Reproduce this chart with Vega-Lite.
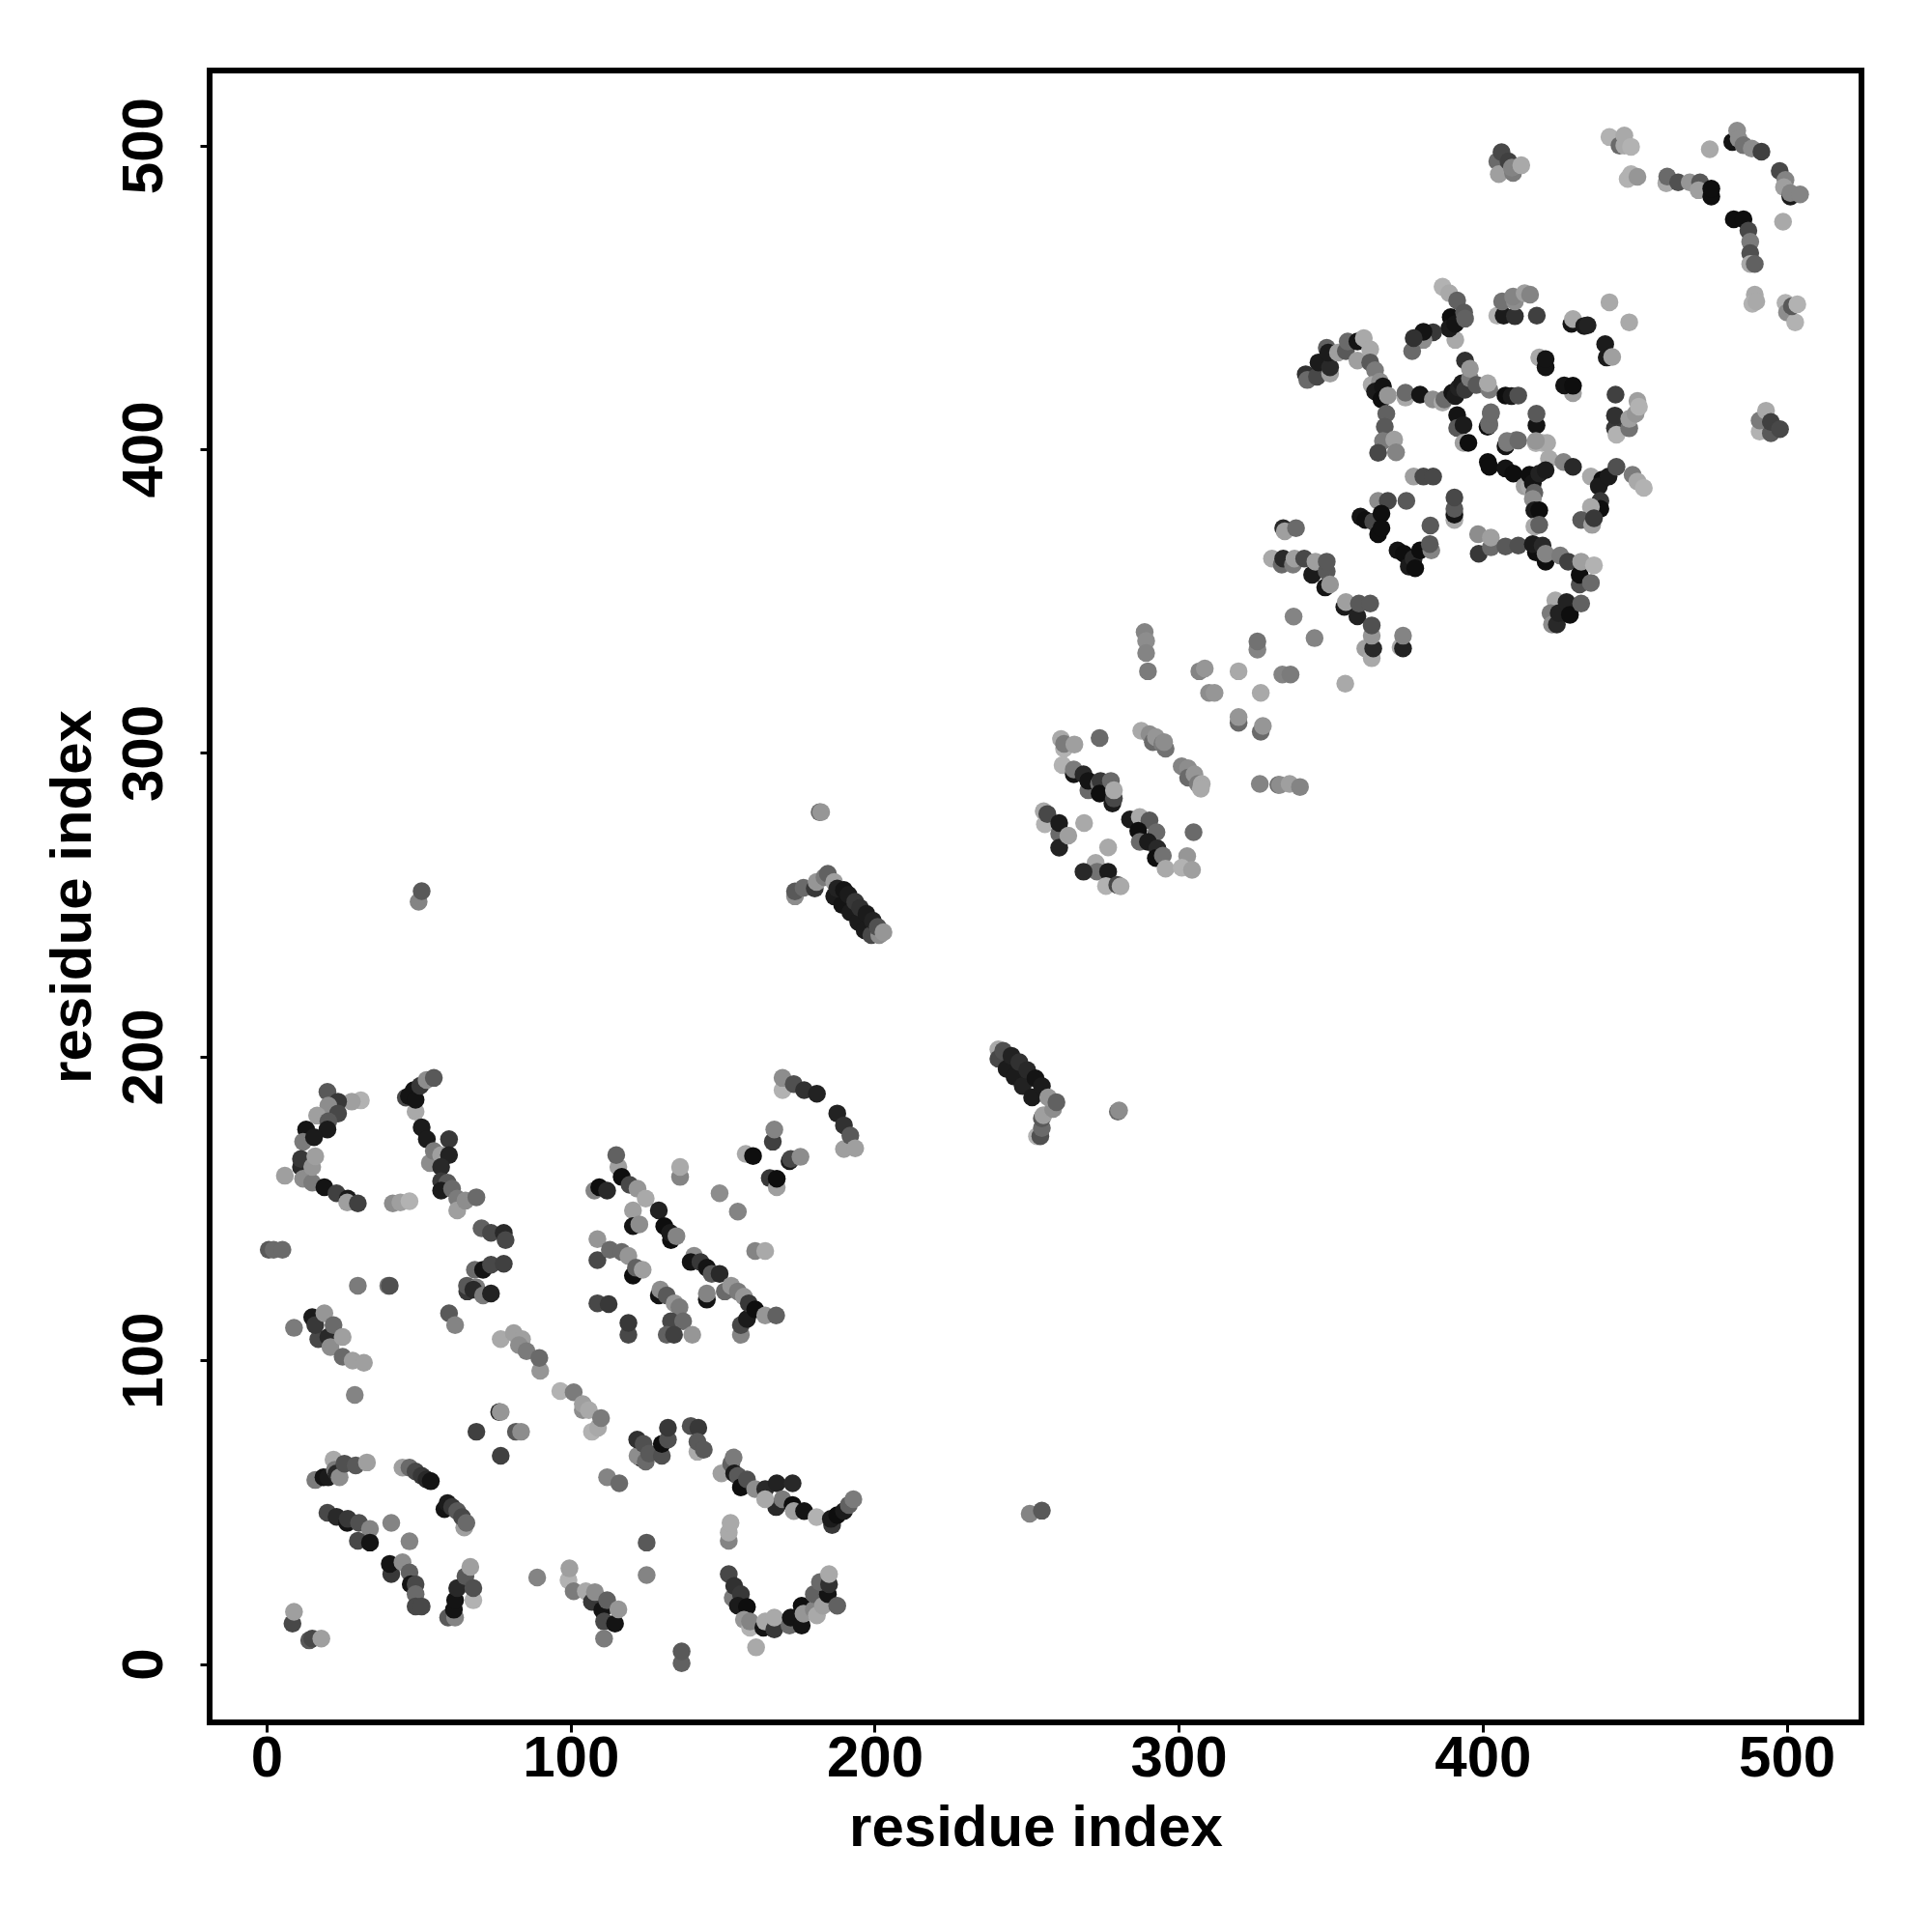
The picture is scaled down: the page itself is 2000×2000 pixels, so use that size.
{"$schema":"https://vega.github.io/schema/vega-lite/v6.json","width":1710,"height":1710,"autosize":{"type":"none"},"padding":{"left":217,"top":73,"right":73,"bottom":217},"background":"white",
"config":{"view":{"stroke":"#000","strokeWidth":6},"font":"Liberation Sans"},
"data":{"values":[
{"i":20,"j":188.4,"s":0.5},{"i":31,"j":185.6,"s":1},{"i":28,"j":185.2,"s":0.9},{"i":23.5,"j":185.2,"s":0.3},{"i":20.3,"j":183.9,"s":0.8},{"i":23.5,"j":181.3,"s":0.4},{"i":16.6,"j":180.6,"s":0.9},{"i":20.3,"j":178.7,"s":0.5},{"i":13,"j":176,"s":0.05},{"i":20,"j":176,"s":0.1},{"i":12,"j":172,"s":0.7},{"i":15.6,"j":173.5,"s":0.1},{"i":11.3,"j":163.7,"s":0.2},{"i":11.3,"j":166.3,"s":0.3},{"i":12,"j":159.8,"s":0.8},{"i":15,"j":158.5,"s":0.7},{"i":15,"j":163.7,"s":0.85},{"i":16,"j":167.2,"s":0.9},{"i":19,"j":157,"s":0.05},{"i":6,"j":160.8,"s":0.9},{"i":23,"j":155,"s":0.35},{"i":26.7,"j":153.3,"s":0.1},{"i":26.5,"j":152,"s":0.9},{"i":30,"j":151.7,"s":0.35},
{"i":41.5,"j":151.7,"s":0.8},{"i":44,"j":152,"s":0.9},{"i":47,"j":152.4,"s":1},
{"i":45.8,"j":186.5,"s":0.4},{"i":49,"j":181.9,"s":0.95},{"i":48.4,"j":189,"s":0.05},{"i":46.8,"j":187,"s":0.05},{"i":49,"j":185.8,"s":0.05},{"i":50.5,"j":190.4,"s":0.3},{"i":52.6,"j":192.3,"s":0.8},{"i":55,"j":193,"s":0.5},
{"i":51,"j":176.7,"s":0.1},{"i":52.7,"j":172.8,"s":0.1},{"i":60,"j":172.8,"s":0.3},{"i":53.7,"j":165,"s":0.8},{"i":55,"j":168.9,"s":0.7},{"i":57.4,"j":167.6,"s":0.9},{"i":60,"j":167.6,"s":0.15},{"i":57.4,"j":163.7,"s":0.2},{"i":57.4,"j":159,"s":0.3},{"i":59.5,"j":158.5,"s":0.5},{"i":57.4,"j":155.9,"s":0.1},{"i":61,"j":156.5,"s":0.6},{"i":62.7,"j":153.3,"s":0.7},{"i":62.7,"j":149.4,"s":0.9},{"i":65.4,"j":152.6,"s":0.8},{"i":69,"j":153.7,"s":0.6},
{"i":0.7,"j":136.4,"s":0.5},{"i":2.3,"j":136.4,"s":0.6},{"i":5.2,"j":136.4,"s":0.6},{"i":30,"j":124.6,"s":0.7},{"i":40,"j":124.6,"s":0.7},{"i":40.5,"j":124.6,"s":0.45},
{"i":70.7,"j":143.5,"s":0.55},{"i":73.8,"j":142,"s":0.4},{"i":78,"j":142,"s":0.2},{"i":78.6,"j":139.6,"s":0.4},{"i":68.5,"j":129.8,"s":0.6},{"i":71.2,"j":129.8,"s":0.05},{"i":73.8,"j":131.5,"s":0.4},{"i":78,"j":131.8,"s":0.35},{"i":66,"j":122.7,"s":0.3},{"i":65.9,"j":124.6,"s":0.5},{"i":69,"j":124,"s":0.7},{"i":68,"j":123.3,"s":0.2},{"i":71.2,"j":121.4,"s":0.7},{"i":73.8,"j":122,"s":0.15},{"i":60,"j":115.5,"s":0.5},{"i":62,"j":111.6,"s":0.75},
{"i":9,"j":110.7,"s":0.7},{"i":15,"j":114.2,"s":0.1},{"i":17,"j":107,"s":0.4},{"i":16,"j":111.6,"s":0.3},{"i":19,"j":115.5,"s":0.85},{"i":20.3,"j":107.7,"s":0.2},{"i":22,"j":111.6,"s":0.6},{"i":21,"j":104.4,"s":0.8},{"i":25,"j":107.7,"s":0.9},{"i":25,"j":101.2,"s":0.6},{"i":28.3,"j":99.9,"s":0.9},{"i":32,"j":99.2,"s":0.9},{"i":29,"j":88.6,"s":0.75},
{"i":77,"j":107,"s":0.95},{"i":81.3,"j":109,"s":0.9},{"i":84,"j":107,"s":0.9},{"i":83,"j":105,"s":0.8},{"i":85.5,"j":103,"s":0.7},{"i":90,"j":96.6,"s":0.85},{"i":89.7,"j":100.8,"s":0.6},
{"i":96.6,"j":89.9,"s":1},{"i":101,"j":89.5,"s":0.7},{"i":104,"j":83.6,"s":0.8},{"i":104,"j":85.6,"s":0.9},{"i":106,"j":83.6,"s":0.95},{"i":107,"j":76.5,"s":1},{"i":109,"j":77.8,"s":0.95},{"i":110,"j":81,"s":0.7},
{"i":76.5,"j":83,"s":0.2},{"i":77,"j":83,"s":0.85},{"i":69,"j":76.5,"s":0.35},{"i":82,"j":76.5,"s":0.5},{"i":83.7,"j":76.5,"s":0.8},{"i":77,"j":68.6,"s":0.35},
{"i":16,"j":60.6,"s":0.7},{"i":18.7,"j":61.5,"s":0.05},{"i":20.3,"j":61.5,"s":0.1},{"i":22,"j":67.3,"s":0.95},{"i":22.5,"j":64,"s":0.7},{"i":23,"j":62.8,"s":0.2},{"i":24,"j":61.5,"s":0.8},{"i":25.6,"j":66,"s":0.45},{"i":29.3,"j":65.4,"s":0.5},{"i":33,"j":66.4,"s":0.9},
{"i":44.7,"j":64.7,"s":0.9},{"i":47,"j":64.7,"s":0.6},{"i":49,"j":63.4,"s":0.4},{"i":51,"j":62,"s":0.3},{"i":52.6,"j":60.8,"s":0.2},{"i":54,"j":60.2,"s":0.05},
{"i":58.5,"j":51,"s":0.05},{"i":59.5,"j":53,"s":0.1},{"i":61,"j":51.7,"s":0.3},{"i":62.7,"j":50.4,"s":0.5},{"i":65,"j":45,"s":0.9},{"i":64.3,"j":48.4,"s":0.4},{"i":65.7,"j":46.5,"s":0.6},
{"i":20,"j":49.8,"s":0.4},{"i":23,"j":48.5,"s":0.2},{"i":26.5,"j":46.5,"s":0.05},{"i":26.7,"j":47.8,"s":0.3},{"i":30.4,"j":46.5,"s":0.45},{"i":34,"j":44.5,"s":0.75},{"i":30,"j":40.6,"s":0.4},{"i":34,"j":40,"s":0.05},{"i":41,"j":46.5,"s":0.75},{"i":47,"j":40.4,"s":0.75},
{"i":41,"j":29.6,"s":0.3},{"i":40.5,"j":33,"s":0.05},{"i":44.7,"j":33.5,"s":0.8},{"i":47,"j":30.2,"s":0.55},{"i":47.4,"j":26.3,"s":0.05},{"i":49,"j":26.3,"s":0.4},{"i":49,"j":23,"s":0.6},{"i":49,"j":19,"s":0.4},{"i":51,"j":19,"s":0.4},
{"i":59.7,"j":15.3,"s":0.5},{"i":62,"j":15.3,"s":0.75},{"i":61.6,"j":17.9,"s":0.05},{"i":62,"j":21,"s":0.05},{"i":62.7,"j":25,"s":0.2},{"i":65.4,"j":28.9,"s":0.5},{"i":68,"j":21,"s":1},{"i":68,"j":25,"s":0.45},{"i":67,"j":32,"s":0.9},
{"i":8.5,"j":13.3,"s":0.4},{"i":9,"j":17.2,"s":0.9},{"i":14,"j":7.8,"s":0.5},{"i":15,"j":8.4,"s":0.4},{"i":18,"j":8.4,"s":0.9},
{"i":89,"j":28.5,"s":0.75},{"i":99.3,"j":27.6,"s":1},{"i":99.6,"j":31.5,"s":0.9},{"i":101,"j":24,"s":0.7},{"i":105,"j":24,"s":0.95},{"i":107,"j":20.5,"s":0.3},{"i":108,"j":23.7,"s":0.8},{"i":110.4,"j":17.8,"s":0.05},{"i":111,"j":14,"s":0.4},{"i":112,"j":21,"s":0.55},{"i":114.6,"j":13.3,"s":0.05},{"i":115.7,"j":18,"s":0.85},{"i":111,"j":8.4,"s":0.7},
{"i":125,"j":40,"s":0.5},{"i":125,"j":29.3,"s":0.75},{"i":136.5,"j":0.3,"s":0.55},{"i":136.5,"j":4.2,"s":0.5},
{"i":169.7,"j":189,"s":1},{"i":169.7,"j":193,"s":0.8},{"i":173.4,"j":191,"s":0.45},{"i":176.8,"j":189,"s":0.25},{"i":181,"j":187.8,"s":0.15},{"i":187.7,"j":181.3,"s":0.15},{"i":189.9,"j":177.4,"s":0.25},{"i":189.9,"j":169.6,"s":0.9},{"i":192,"j":174,"s":0.5},{"i":193.6,"j":169.8,"s":0.9},
{"i":166.5,"j":172,"s":0.35},{"i":167,"j":176,"s":0.75},{"i":157.6,"j":168,"s":0.95},{"i":160,"j":167.3,"s":0.02},{"i":172,"j":165.6,"s":0.1},{"i":172.4,"j":166.3,"s":0.4},{"i":175.6,"j":167,"s":0.8},{"i":165.5,"j":160,"s":0.3},{"i":167.8,"j":157,"s":0.9},{"i":167.8,"j":159.8,"s":0.02},
{"i":136,"j":160.4,"s":0.75},{"i":136,"j":163.7,"s":0.95},{"i":149,"j":155,"s":0.8},{"i":155,"j":149,"s":0.75},{"i":160.7,"j":136,"s":0.75},{"i":164,"j":136,"s":0.95},
{"i":115.7,"j":163.7,"s":0.9},{"i":115,"j":167.6,"s":0.55},{"i":107.8,"j":155.9,"s":0.75},{"i":109.4,"j":157,"s":0.02},{"i":112,"j":155.9,"s":0.2},{"i":116.8,"j":160.4,"s":0.02},{"i":119.4,"j":157.8,"s":0.4},{"i":120.5,"j":149.4,"s":0.9},{"i":122,"j":156.5,"s":0.85},{"i":124.7,"j":153.3,"s":0.95},{"i":120.5,"j":144.2,"s":0.05},{"i":122.6,"j":144.8,"s":0.8},{"i":129,"j":149.4,"s":0.15},{"i":130.8,"j":144.2,"s":0.02},{"i":133,"j":139.6,"s":0.02},{"i":132.7,"j":142,"s":0.1},{"i":134.8,"j":140.9,"s":0.75},
{"i":108.8,"j":139.9,"s":0.85},{"i":108.8,"j":133,"s":0.4},{"i":112.9,"j":136.4,"s":0.6},{"i":116.8,"j":135.7,"s":0.6},{"i":119,"j":134.4,"s":0.85},{"i":120.5,"j":127.9,"s":0.02},{"i":121.5,"j":130.5,"s":0.55},{"i":123.7,"j":129.8,"s":0.9},
{"i":108.8,"j":118.8,"s":0.4},{"i":112.5,"j":118.5,"s":0.3},{"i":119,"j":108.4,"s":0.4},{"i":119,"j":112.3,"s":0.3},
{"i":129,"j":121.4,"s":0.05},{"i":129.5,"j":123.3,"s":0.8},{"i":131.6,"j":121.4,"s":0.5},{"i":134.2,"j":118.8,"s":0.85},{"i":135.8,"j":117.5,"s":0.7},{"i":133,"j":112.9,"s":0.4},{"i":137,"j":112.9,"s":0.6},{"i":131.6,"j":108.4,"s":0.55},{"i":134,"j":108.4,"s":0.35},{"i":140,"j":108.4,"s":0.85},
{"i":140.6,"j":134.4,"s":0.8},{"i":139.5,"j":132.4,"s":0.05},{"i":142.7,"j":132.4,"s":0.3},{"i":144.8,"j":130.5,"s":0.05},{"i":146.4,"j":128.5,"s":0.5},{"i":149,"j":128.5,"s":0.2},{"i":144.8,"j":120,"s":0.05},{"i":144.8,"j":122,"s":0.75},{"i":150.7,"j":122.7,"s":0.6},{"i":152.8,"j":124.6,"s":0.85},{"i":155,"j":122.7,"s":0.7},{"i":157,"j":121,"s":0.85},{"i":156,"j":108.4,"s":0.75},{"i":156,"j":111.6,"s":0.4},{"i":158,"j":113.6,"s":0.1},{"i":158.6,"j":118.8,"s":0.3},{"i":160.7,"j":116.8,"s":0.02},{"i":164,"j":114.8,"s":0.85},{"i":167.6,"j":114.8,"s":0.55},
{"i":123,"j":68,"s":0.05},{"i":122,"j":68.6,"s":0.8},{"i":121.9,"j":73.9,"s":0.25},{"i":124,"j":72.5,"s":0.45},{"i":124.7,"j":66.7,"s":0.6},{"i":125.8,"j":69.3,"s":0.5},{"i":130,"j":68.6,"s":0.45},{"i":130,"j":72.5,"s":0.02},{"i":132,"j":73.9,"s":0.45},{"i":132,"j":77.8,"s":0.3},
{"i":139.5,"j":78.4,"s":0.45},{"i":142,"j":77.8,"s":0.3},{"i":141.7,"j":69.9,"s":0.95},{"i":141.7,"j":73.2,"s":0.5},{"i":143.8,"j":70.6,"s":0.5},{"i":112,"j":61.5,"s":0.75},{"i":116,"j":59.5,"s":0.6},
{"i":149.6,"j":62.8,"s":0.9},{"i":152.8,"j":66,"s":0.55},{"i":153.6,"j":68,"s":0.7},{"i":153.8,"j":62.8,"s":0.1},{"i":155,"j":62,"s":0.5},{"i":156,"j":58.2,"s":0.02},{"i":158,"j":60.8,"s":0.45},{"i":160.7,"j":57.6,"s":0.8},{"i":164,"j":57.6,"s":0.2},{"i":167.8,"j":59.5,"s":0.15},{"i":173,"j":59.5,"s":0.2},{"i":167.6,"j":51.7,"s":0.2},{"i":164,"j":54.3,"s":0.95},{"i":169.7,"j":54.3,"s":0.7},{"i":173,"j":52.4,"s":0.02},{"i":173.4,"j":50.4,"s":0.9},{"i":176.8,"j":50.4,"s":0.05},{"i":180.9,"j":48.4,"s":1},
{"i":186,"j":45.8,"s":0.3},{"i":185.6,"j":47.8,"s":0.1},{"i":187.7,"j":49,"s":0.02},{"i":189.9,"j":50.4,"s":0.1},{"i":191.5,"j":52.4,"s":0.55},{"i":193,"j":54.3,"s":0.7},
{"i":152,"j":40.6,"s":0.75},{"i":152,"j":43.3,"s":0.95},{"i":152.6,"j":46.5,"s":0.95},
{"i":152,"j":29.6,"s":0.4},{"i":153.3,"j":21.8,"s":0.7},{"i":153.8,"j":25.7,"s":0.25},{"i":156,"j":23,"s":0.3},{"i":155,"j":19.2,"s":0.1},{"i":158,"j":18.8,"s":0.02},{"i":157,"j":14.6,"s":0.85},{"i":159,"j":12,"s":1},{"i":159,"j":14,"s":0.75},{"i":163.4,"j":12,"s":0.05},{"i":164,"j":14,"s":0.95},{"i":167,"j":11.4,"s":0.3},{"i":167,"j":15.3,"s":0.95},{"i":172,"j":12.7,"s":0.6},{"i":172.4,"j":15.3,"s":0.05},{"i":176,"j":12.7,"s":0.05},{"i":176,"j":19.2,"s":0.02},{"i":176.6,"j":16.6,"s":0.85},{"i":180,"j":17.9,"s":0.75},{"i":181,"j":16,"s":0.95},{"i":180,"j":23,"s":0.55},{"i":183,"j":19.2,"s":0.9},{"i":184.6,"j":23,"s":0.05},{"i":182,"j":27,"s":0.6},{"i":185,"j":26.3,"s":0.25},{"i":185,"j":29.6,"s":0.95},{"i":187.7,"j":19.2,"s":0.55},{"i":161,"j":5.5,"s":0.95},
{"i":50,"j":251,"s":0.75},{"i":51,"j":254.5,"s":0.5},{"i":251,"j":49.5,"s":0.75},{"i":255,"j":50.5,"s":0.5},
{"i":181.9,"j":280.5,"s":0.6},{"i":182.4,"j":280.5,"s":0.85},{"i":173.8,"j":252.8,"s":0.8},{"i":173.8,"j":254.4,"s":0.5},{"i":176.6,"j":255.6,"s":0.6},{"i":180.3,"j":255.4,"s":0.3},{"i":180.9,"j":257.5,"s":0.85},{"i":183.5,"j":259.1,"s":0.7},{"i":184.6,"j":260.2,"s":0.55},{"i":186.7,"j":257.5,"s":0.9},
{"i":186.7,"j":252.8,"s":0.1},{"i":189.3,"j":250,"s":0.05},{"i":192,"j":247.5,"s":0.1},{"i":194.6,"j":244.3,"s":0.1},{"i":196.7,"j":241.6,"s":0.1},{"i":198.9,"j":240,"s":0.4},{"i":187.7,"j":255.4,"s":0.15},{"i":189.9,"j":254.9,"s":0.05},{"i":191.4,"j":253.3,"s":0.1},{"i":193.6,"j":251,"s":0.3},{"i":195.2,"j":249,"s":0.25},{"i":197.3,"j":247,"s":0.1},{"i":199.4,"j":244.8,"s":0.15},{"i":201.5,"j":240,"s":0.8},{"i":201,"j":242.7,"s":0.45},{"i":202.9,"j":241,"s":0.85},
{"i":240.7,"j":202.4,"s":0.95},{"i":240.7,"j":199.3,"s":0.4},{"i":243.4,"j":196,"s":0.1},{"i":246,"j":193.4,"s":0.1},{"i":248.7,"j":190.3,"s":0.15},{"i":251.8,"j":186.6,"s":0.1},{"i":242.3,"j":201.9,"s":0.45},{"i":245,"j":200.3,"s":0.15},{"i":247.6,"j":198.2,"s":0.25},{"i":250.2,"j":195.6,"s":0.2},{"i":252.9,"j":192.9,"s":0.05},{"i":255,"j":190.3,"s":0.1},{"i":253.4,"j":173.8,"s":1},{"i":254.5,"j":173.8,"s":0.45},{"i":255,"j":176.5,"s":0.6},{"i":255,"j":179.7,"s":0.5},{"i":255.5,"j":180.7,"s":0.9},{"i":258.7,"j":182.8,"s":0.8},{"i":257.1,"j":186.6,"s":0.85},{"i":259.8,"j":185,"s":0.55},{"i":280,"j":181.9,"s":0.6},{"i":280.4,"j":182.3,"s":0.8},
{"i":288.8,"j":339.8,"s":0.75},{"i":289.3,"j":336.9,"s":0.8},{"i":289.3,"j":332.9,"s":0.75},{"i":289.9,"j":326.9,"s":0.7},{"i":306.8,"j":326.9,"s":0.75},{"i":308.6,"j":327.8,"s":0.85},{"i":319.7,"j":326.9,"s":0.95},{"i":325.9,"j":334,"s":0.75},{"i":325.9,"j":336.7,"s":0.65},{"i":334.1,"j":325.8,"s":0.75},{"i":336.8,"j":325.8,"s":0.7},{"i":310,"j":319.8,"s":0.8},{"i":311.8,"j":319.8,"s":0.85},{"i":327,"j":319.8,"s":0.95},{"i":337.8,"j":344.9,"s":0.75},{"i":344.7,"j":337.8,"s":0.75},{"i":354.8,"j":322.8,"s":0.95},
{"i":319.7,"j":309.9,"s":0.6},{"i":319.7,"j":311.8,"s":0.85},{"i":327,"j":307,"s":0.6},{"i":327.7,"j":308.9,"s":0.85},{"i":326.7,"j":289.8,"s":0.75},{"i":332.8,"j":289.5,"s":0.6},{"i":333.3,"j":289.5,"s":0.8},{"i":336.5,"j":289.8,"s":0.9},{"i":339.9,"j":288.8,"s":0.75},
{"i":287.7,"j":307.3,"s":0.95},{"i":290.4,"j":306.2,"s":0.8},{"i":291.5,"j":303.6,"s":0.6},{"i":292.5,"j":305.2,"s":0.85},{"i":294.6,"j":303,"s":0.7},{"i":295.7,"j":301.4,"s":0.65},{"i":295.2,"j":303.6,"s":0.8},
{"i":301,"j":295.6,"s":0.75},{"i":303.1,"j":295,"s":0.8},{"i":303.1,"j":291.9,"s":0.6},{"i":305.2,"j":293,"s":0.85},{"i":306.3,"j":289.8,"s":0.7},{"i":307.6,"j":289.8,"s":0.95},{"i":307.3,"j":288.2,"s":0.95},
{"i":261.3,"j":304.6,"s":0.95},{"i":262.3,"j":301.4,"s":1},{"i":262.3,"j":303,"s":0.7},{"i":265.7,"j":302.8,"s":0.9},{"i":274,"j":304.9,"s":0.6},
{"i":261.8,"j":296,"s":1},{"i":265.5,"j":293,"s":0.05},{"i":265.5,"j":294.6,"s":0.7},{"i":268.7,"j":293,"s":0.2},{"i":270.3,"j":287.7,"s":0.6},{"i":270.3,"j":290.8,"s":0.05},{"i":273.8,"j":289.8,"s":0.65},{"i":274.3,"j":290.8,"s":0.3},{"i":274,"j":286.6,"s":0.02},{"i":278.2,"j":283.4,"s":0.1},{"i":278.7,"j":285,"s":0.4},{"i":277.7,"j":290.8,"s":0.6},{"i":278.7,"j":287.7,"s":0.95},
{"i":255.6,"j":280.8,"s":0.95},{"i":256,"j":276.5,"s":1},{"i":256.8,"j":279.9,"s":0.4},{"i":260.7,"j":273.4,"s":0.6},{"i":260.7,"j":276.9,"s":0.1},{"i":260.7,"j":268.8,"s":0.15},{"i":263.7,"j":272.8,"s":0.9},{"i":268.9,"j":276.9,"s":0.95},{"i":276.8,"j":268.9,"s":0.95},
{"i":284,"j":278.1,"s":0.1},{"i":287.2,"j":278.9,"s":0.95},{"i":290.4,"j":277.8,"s":0.5},{"i":286.7,"j":274.4,"s":0.02},{"i":292.7,"j":273.9,"s":0.6},{"i":287.2,"j":270.7,"s":0.6},{"i":289.9,"j":270.7,"s":0.1},{"i":293,"j":268.6,"s":0.2},{"i":292.5,"j":265.4,"s":0.02},{"i":294.8,"j":266.2,"s":0.65},{"i":295.7,"j":261.9,"s":0.95},{"i":304.9,"j":273.9,"s":0.6},{"i":302.8,"j":266,"s":0.85},{"i":301,"j":262.2,"s":1},{"i":304.4,"j":261.5,"s":0.9},
{"i":272.7,"j":263.8,"s":0.95},{"i":273.2,"j":260.9,"s":0.65},{"i":268.7,"j":260.9,"s":0.2},{"i":276.8,"j":260.9,"s":0.1},{"i":276.1,"j":256.2,"s":1},{"i":279.8,"j":256.6,"s":0.4},{"i":280.9,"j":256.1,"s":0.95},
{"i":404.8,"j":494.8,"s":0.6},{"i":405.3,"j":490.6,"s":0.9},{"i":406.2,"j":497.8,"s":0.4},{"i":408.5,"j":494.8,"s":0.35},{"i":410,"j":491,"s":0.7},{"i":409.6,"j":492.7,"s":0.75},{"i":412.7,"j":493.5,"s":0.95},
{"i":441.7,"j":502.8,"s":1},{"i":445,"j":500,"s":0.6},{"i":446.6,"j":503.3,"s":0.95},{"i":446.6,"j":500,"s":0.95},{"i":448.8,"j":499.6,"s":1},{"i":447.7,"j":489,"s":1},{"i":448.8,"j":490.6,"s":1},{"i":450.9,"j":489.7,"s":0.85},
{"i":460.4,"j":487.6,"s":0.95},{"i":460.7,"j":489.8,"s":0.6},{"i":464.3,"j":487.9,"s":0.45},{"i":468.1,"j":487.9,"s":0.85},{"i":471.5,"j":487.9,"s":0.5},{"i":471,"j":485.3,"s":0.9},{"i":474.7,"j":498.8,"s":0.95},{"i":475.2,"j":483.2,"s":0.02},{"i":475.2,"j":485.8,"s":0.02},
{"i":482.1,"j":501.2,"s":0.05},{"i":483.7,"j":504.9,"s":0.8},{"i":484.2,"j":502.2,"s":0.8},{"i":485.8,"j":500.1,"s":0.65},{"i":488.5,"j":499,"s":0.8},{"i":491.7,"j":498,"s":0.35},{"i":497.7,"j":491.6,"s":0.4},{"i":499.6,"j":488.7,"s":0.75},{"i":499.1,"j":486.3,"s":0.9},{"i":501.2,"j":483.2,"s":0.1},{"i":501.2,"j":484.4,"s":0.75},{"i":504.4,"j":483.9,"s":0.75},{"i":498.8,"j":474.9,"s":0.95},
{"i":482.6,"j":475.7,"s":0.02},{"i":485.8,"j":475.7,"s":0.02},{"i":487.4,"j":472,"s":0.4},{"i":488,"j":468.3,"s":0.7},{"i":488,"j":464.6,"s":0.45},{"i":488,"j":461,"s":0.95},{"i":489.5,"j":461,"s":0.55},
{"i":489.5,"j":450.9,"s":0.95},{"i":488.7,"j":447.9,"s":1},{"i":490,"j":448.7,"s":0.95},{"i":499.6,"j":448.2,"s":1},{"i":500.1,"j":445,"s":0.8},{"i":502.8,"j":441.8,"s":1},{"i":501.7,"j":447.1,"s":0.5},{"i":503.5,"j":447.7,"s":1},
{"i":491.1,"j":405.8,"s":1},{"i":491.1,"j":409.5,"s":0.7},{"i":493.2,"j":412.7,"s":0.95},{"i":494.8,"j":405.3,"s":0.5},{"i":494.8,"j":409,"s":0.35},{"i":497.8,"j":406.6,"s":0.4},
{"i":404.8,"j":444,"s":1},{"i":406.9,"j":444,"s":0.1},{"i":410.6,"j":443.8,"s":0.25},{"i":406.4,"j":448.7,"s":0.65},{"i":410.6,"j":448.7,"s":0.8},{"i":410,"j":450.3,"s":0.75},{"i":413.8,"j":451.4,"s":0.9},{"i":415.6,"j":450.9,"s":0.75},{"i":417.8,"j":444,"s":0.35},
{"i":441.7,"j":448.4,"s":0.95},{"i":448.2,"j":441.8,"s":0.95},{"i":429.2,"j":441.3,"s":0.05},{"i":429.7,"j":442.9,"s":0.95},{"i":433.4,"j":440.6,"s":0.1},{"i":434.5,"j":440.8,"s":0.15},{"i":440.3,"j":434.6,"s":0.1},{"i":440.8,"j":430.2,"s":0.1},{"i":442.6,"j":430.4,"s":0.9},
{"i":418.6,"j":430.2,"s":0.95},{"i":420.7,"j":427,"s":0.05},{"i":420.7,"j":429.7,"s":0.05},{"i":429.7,"j":418.5,"s":0.9},{"i":426.8,"j":421,"s":0.05},{"i":429.7,"j":420.9,"s":0.02},
{"i":443.7,"j":418,"s":0.35},{"i":443.5,"j":406.9,"s":0.3},{"i":444,"j":404.8,"s":1},{"i":443.5,"j":411.1,"s":0.25},{"i":448.2,"j":406.9,"s":0.65},{"i":448.2,"j":410,"s":0.9},{"i":450.3,"j":411.7,"s":0.85},{"i":450.9,"j":415.9,"s":0.9},{"i":451.4,"j":414,"s":1},
{"i":401.6,"j":407.4,"s":0.02},{"i":402.1,"j":408.5,"s":0.6},{"i":402.7,"j":412.2,"s":0.6},{"i":417.7,"j":407.9,"s":0.05},{"i":417.7,"j":411.7,"s":0.5},
{"i":407.5,"j":401,"s":0.05},{"i":408,"j":402.1,"s":0.7},{"i":411.1,"j":403,"s":0.65},{"i":417.5,"j":402,"s":1},{"i":419.6,"j":402.1,"s":1},{"i":421.2,"j":402.1,"s":0.95},
{"i":341.8,"j":424.7,"s":0.25},{"i":342.3,"j":422.8,"s":0.6},{"i":345.5,"j":423.9,"s":0.4},{"i":346,"j":428.6,"s":0.1},{"i":349.8,"j":424.9,"s":0.9},{"i":349.8,"j":427,"s":0.2},{"i":348.7,"j":433.4,"s":0.55},{"i":349.2,"j":431.8,"s":0.1},{"i":352.4,"j":431.8,"s":0.9},{"i":355,"j":432.3,"s":0.5},{"i":355.6,"j":435.5,"s":0.6},{"i":358.8,"j":429.2,"s":0.9},{"i":358.8,"j":435.5,"s":0.05},{"i":360.9,"j":436.6,"s":0.95},{"i":363,"j":432.9,"s":0.95},{"i":363,"j":428.6,"s":0.5},{"i":364.6,"j":426,"s":0.7},{"i":363.5,"j":421.2,"s":0.95},{"i":366.2,"j":422.3,"s":0.8},{"i":364.6,"j":419,"s":0.1},{"i":367.2,"j":420.7,"s":0.05},{"i":366.7,"j":416.4,"s":0.02},{"i":368.8,"j":417.7,"s":0.85},{"i":368.3,"j":411.7,"s":0.55},{"i":367.8,"j":407.4,"s":0.5},{"i":367.2,"j":402.7,"s":0.7},{"i":370.9,"j":403.2,"s":0.9},{"i":365.6,"j":398.8,"s":0.4},{"i":371.5,"j":399,"s":0.75},
{"i":374.6,"j":417,"s":0.95},{"i":374.6,"j":418.6,"s":0.6},{"i":379.4,"j":418,"s":0.05},{"i":383.6,"j":416.4,"s":0.8},{"i":386.8,"j":415.4,"s":0.95},{"i":387.4,"j":416.4,"s":0.6},{"i":390,"j":418.6,"s":0.05},{"i":391,"j":417.5,"s":0.1},{"i":392.1,"j":420.2,"s":0.15},{"i":393.2,"j":421.7,"s":0.1},{"i":394.2,"j":419.6,"s":0.3},{"i":394.2,"j":429.2,"s":0.25},{"i":395.8,"j":423.3,"s":0.7},{"i":395.8,"j":426.5,"s":0.85},{"i":398,"j":421.2,"s":0.5},{"i":402.2,"j":419.6,"s":0.7},{"i":401.7,"j":421.7,"s":0.95},{"i":407.5,"j":417.7,"s":0.02},{"i":409.5,"j":417.5,"s":0.1},{"i":411.7,"j":417.7,"s":0.45},
{"i":391.6,"j":411.2,"s":0.05},{"i":391.6,"j":407,"s":0.5},{"i":393.7,"j":408,"s":0.1},{"i":393.7,"j":402.1,"s":0.9},{"i":395.3,"j":402.1,"s":0.02},{"i":402.2,"j":408,"s":0.6},{"i":402.7,"j":411.7,"s":0.6},{"i":408,"j":402.7,"s":0.7},{"i":411.7,"j":402.9,"s":0.6},
{"i":386.8,"j":453.5,"s":1},{"i":389,"j":451.4,"s":0.95},{"i":391.6,"j":449,"s":0.55},{"i":391,"j":436,"s":0.95},{"i":389.5,"j":443.5,"s":0.02},{"i":389,"j":439.8,"s":0.1},{"i":391,"j":441.3,"s":0.05},{"i":393.9,"j":445,"s":0.5},{"i":394.2,"j":443,"s":0.55},{"i":383.7,"j":438.5,"s":0.3},{"i":380.5,"j":436,"s":0.8},{"i":380.5,"j":438.7,"s":0.05},{"i":376.8,"j":432.3,"s":0.6},{"i":377.3,"j":436.6,"s":0.25},
{"i":417.5,"j":402.7,"s":0.85},{"i":421.8,"j":396.9,"s":0.95},{"i":426.6,"j":395.8,"s":0.75},{"i":429.7,"j":394.2,"s":0.2},{"i":401.7,"j":395.8,"s":0.02},{"i":402.2,"j":394.2,"s":0.02},{"i":407.5,"j":393.7,"s":0.05},{"i":410.1,"j":392,"s":0.02},{"i":413.8,"j":387.8,"s":0.9},{"i":415.4,"j":387.8,"s":0.95},{"i":415.4,"j":391.6,"s":0.02},{"i":416.5,"j":388.9,"s":0.05},{"i":418.6,"j":392,"s":0.15},{"i":420.7,"j":393.1,"s":0.1},{"i":417,"j":385.7,"s":0.55},{"i":416.5,"j":383.6,"s":0.8},{"i":417,"j":379.9,"s":0.1},{"i":418.6,"j":379.9,"s":0.02},{"i":417,"j":374.6,"s":0.95},{"i":418.6,"j":375.1,"s":0.55},
{"i":435.6,"j":391,"s":0.95},{"i":439.3,"j":390,"s":0.02},{"i":438.2,"j":387.8,"s":0.1},{"i":441.4,"j":391,"s":0.1},{"i":444,"j":394.2,"s":0.45},{"i":449.3,"j":391.6,"s":0.7},{"i":450.9,"j":389.4,"s":0.95},{"i":453,"j":387.3,"s":1},{"i":438.7,"j":383,"s":0.3},{"i":438.7,"j":380.4,"s":0.02},{"i":435.6,"j":381,"s":0.95},{"i":432.4,"j":376.7,"s":0.5},{"i":436,"j":375.1,"s":0.9},{"i":436.6,"j":377.3,"s":0.3},
{"i":377.3,"j":391,"s":0.9},{"i":380.5,"j":391,"s":0.4},{"i":383.7,"j":391,"s":0.4},{"i":390.7,"j":376.7,"s":0.95},{"i":390.7,"j":378.5,"s":0.05},{"i":390.7,"j":380.4,"s":0.5},{"i":390.7,"j":384.1,"s":0.4},
{"i":365.6,"j":383,"s":0.8},{"i":368.8,"j":383,"s":0.4},{"i":374.9,"j":383,"s":0.5},{"i":359.8,"j":377.8,"s":0.05},{"i":361.4,"j":376.7,"s":0.02},{"i":364,"j":376.2,"s":0.4},{"i":366.7,"j":378.8,"s":0.02},{"i":365.6,"j":372,"s":0.02},{"i":366.7,"j":374,"s":0.02},{"i":382.8,"j":374.9,"s":0.5},
{"i":372,"j":366.7,"s":0.05},{"i":374.1,"j":365.6,"s":0.02},{"i":375.7,"j":361.4,"s":0.1},{"i":377.3,"j":364,"s":0.2},{"i":377.8,"j":360.8,"s":0.02},{"i":379.4,"j":366.7,"s":0.02},{"i":383.1,"j":366.7,"s":0.75},{"i":382.6,"j":368.8,"s":0.5},
{"i":398.7,"j":365.6,"s":0.3},{"i":398.5,"j":372,"s":0.8},{"i":402.7,"j":367.7,"s":0.6},{"i":402.7,"j":370.9,"s":0.9},{"i":407.5,"j":368,"s":0.5},{"i":411.7,"j":368.3,"s":0.45},{"i":417.5,"j":366.1,"s":0.02},{"i":416.5,"j":368.8,"s":0.1},{"i":419.7,"j":368.3,"s":0.2},{"i":420.7,"j":363,"s":0.02},{"i":420.7,"j":365.6,"s":0.75},{"i":425.5,"j":365,"s":0.7},{"i":428.1,"j":363,"s":0.35},{"i":431.9,"j":355.5,"s":0.45},{"i":431.9,"j":358.7,"s":0.02},{"i":432.4,"j":363,"s":0.9},{"i":435.6,"j":356,"s":0.6},{"i":436.6,"j":361.8,"s":1},{"i":423.9,"j":350.2,"s":0.95},{"i":422.3,"j":346,"s":0.7},{"i":422.8,"j":342.3,"s":0.8},{"i":424.4,"j":342.3,"s":0.2},{"i":425,"j":346,"s":0.15},{"i":427.6,"j":349.7,"s":0.15},{"i":428.7,"j":345.5,"s":0.02},{"i":432.4,"j":349.2,"s":0.55},
{"i":334.4,"j":374,"s":0.2},{"i":334.9,"j":373,"s":0.9},{"i":338.6,"j":374,"s":0.6},{"i":330.7,"j":364,"s":0.95},{"i":333.9,"j":362,"s":0.6},{"i":334.4,"j":364,"s":0.2},{"i":337.6,"j":362,"s":0.7},{"i":338.1,"j":364,"s":0.9},{"i":341.3,"j":364,"s":0.4},{"i":343.9,"j":358.7,"s":0.1},{"i":345,"j":363,"s":0.9},{"i":348.2,"j":354.5,"s":0.05},{"i":348.7,"j":359.8,"s":0.5},{"i":348.7,"j":363,"s":0.5},{"i":349.8,"j":355.5,"s":0.85},
{"i":354.5,"j":348.1,"s":0.1},{"i":355,"j":349.7,"s":0.9},{"i":358.8,"j":345,"s":0.15},{"i":359.3,"j":349.2,"s":0.5},{"i":363,"j":349.2,"s":0.5},{"i":361.4,"j":334.4,"s":0.9},{"i":363.5,"j":331.2,"s":0.95},{"i":364,"j":334.4,"s":0.2},{"i":363.5,"j":338.6,"s":0.85},{"i":363.5,"j":342,"s":0.45},{"i":373,"j":334.8,"s":0.95},{"i":373.8,"j":334.4,"s":0.15},{"i":373.8,"j":338.6,"s":0.75}
]},
"mark":{"type":"circle","size":342,"opacity":1,"stroke":null},
"encoding":{
"x":{"field":"i","type":"quantitative","title":"residue index","scale":{"domain":[-18.75,524.6],"nice":false,"zero":false},
"axis":{"values":[0,100,200,300,400,500],"grid":false,"domain":false,"tickColor":"#000","tickWidth":3,"tickSize":10,"labelFont":"Liberation Sans","labelFontWeight":"bold","labelFontSize":60,"labelColor":"#000","labelPadding":-2,"titleFont":"Liberation Sans","titleFontWeight":"bold","titleFontSize":60,"titleColor":"#000","titlePadding":13,"labelFlush":false,"labelOverlap":false}},
"y":{"field":"j","type":"quantitative","title":"residue index","scale":{"domain":[-19.2,524.7],"nice":false,"zero":false},
"axis":{"values":[0,100,200,300,400,500],"grid":false,"domain":false,"tickColor":"#000","tickWidth":3,"tickSize":10,"labelFont":"Liberation Sans","labelFontWeight":"bold","labelFontSize":60,"labelColor":"#000","labelAngle":-90,"labelAlign":"center","labelBaseline":"bottom","labelPadding":27,"titleFont":"Liberation Sans","titleFontWeight":"bold","titleFontSize":60,"titleColor":"#000","titlePadding":13,"labelOverlap":false}},
"color":{"field":"s","type":"quantitative","legend":null,"scale":{"domain":[0,1],"range":["#0a0a0a","#b2b2b2"]}}
}}
